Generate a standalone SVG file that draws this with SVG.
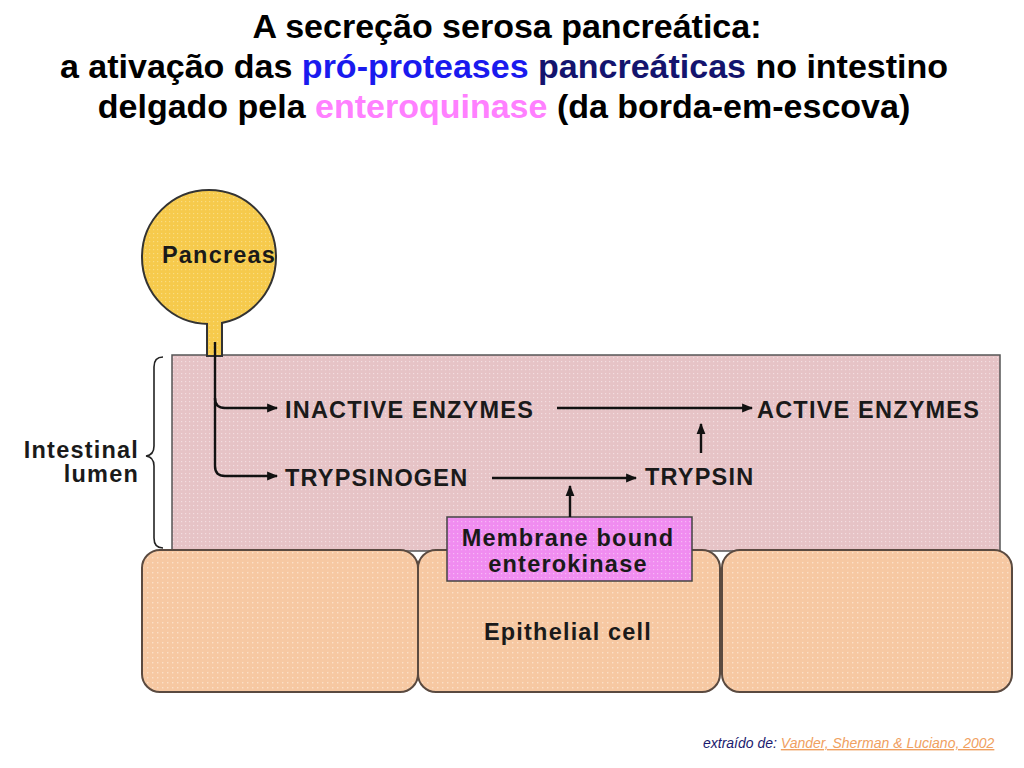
<svg xmlns="http://www.w3.org/2000/svg" width="1024" height="768" viewBox="0 0 1024 768">
<defs>
<pattern id="dotPink" width="4" height="4" patternUnits="userSpaceOnUse"><rect width="4" height="4" fill="#e6c3c6"/><rect x="1" y="1" width="1.2" height="1.2" fill="#f3dde0"/></pattern>
<pattern id="dotCell" width="5" height="5" patternUnits="userSpaceOnUse"><rect width="5" height="5" fill="#f6c8a2"/><rect x="2" y="2" width="1.4" height="1.4" fill="#fbe0c8"/></pattern>
<pattern id="dotYellow" width="4" height="4" patternUnits="userSpaceOnUse"><rect width="4" height="4" fill="#f6ca4c"/><rect x="1" y="1" width="1.2" height="1.2" fill="#fadd80"/></pattern>
<pattern id="dotMag" width="4" height="4" patternUnits="userSpaceOnUse"><rect width="4" height="4" fill="#f08cf0"/><rect x="1" y="1" width="1.2" height="1.2" fill="#f7b8f7"/></pattern>
<marker id="ah" viewBox="0 0 10 10" refX="9" refY="5" markerWidth="11" markerHeight="11" markerUnits="userSpaceOnUse" orient="auto"><path d="M0,1 L10,5 L0,9 Z" fill="#111"/></marker>
</defs>
<style>
.title{font-family:"Liberation Sans",Arial,sans-serif;font-weight:bold;font-size:34px;fill:#000}
.lbl{font-family:"Liberation Sans",Arial,sans-serif;font-weight:bold;font-size:23.5px;letter-spacing:1.2px;fill:#1a1a1a}
.cell{fill:url(#dotCell);stroke:#5a4a40;stroke-width:2}
.conn{fill:none;stroke:#111;stroke-width:2.4}
.foot{font-family:"Liberation Sans",Arial,sans-serif;font-style:italic;font-size:14px}
</style>
<g id="title">
<text class="title" x="507" y="38" text-anchor="middle">A secreção serosa pancreática:</text>
<text class="title" x="504" y="78" text-anchor="middle">a ativação das <tspan fill="#1a1aee">pró-proteases</tspan> <tspan fill="#14146e">pancreáticas</tspan> no intestino</text>
<text class="title" x="504" y="118" text-anchor="middle">delgado pela <tspan fill="#ff80ff">enteroquinase</tspan> (da borda-em-escova)</text>
</g>
<g id="lumen">
<rect x="172" y="355" width="828" height="196" fill="url(#dotPink)" stroke="#555" stroke-width="1.5"/>
</g>
<g id="cell-left"><rect class="cell" x="142" y="550" width="276" height="142" rx="18"/></g>
<g id="cell-middle"><rect class="cell" x="418" y="550" width="302" height="142" rx="18"/>
<text class="lbl" x="568" y="640" text-anchor="middle">Epithelial cell</text></g>
<g id="cell-right"><rect class="cell" x="722" y="550" width="290" height="142" rx="18"/></g>
<g id="pancreas">
<path d="M207,320 L207,356 L222,356 L222,320 Z" fill="url(#dotYellow)" stroke="#333" stroke-width="2"/>
<circle cx="209" cy="257" r="67" fill="url(#dotYellow)" stroke="#333" stroke-width="2"/>
<rect x="208" y="316" width="13" height="12" fill="url(#dotYellow)"/>
<text class="lbl" x="219" y="263" text-anchor="middle" font-size="25" letter-spacing="0.8">Pancreas</text>
</g>
<g id="enterokinase">
<rect x="447" y="517" width="245" height="64" fill="url(#dotMag)" stroke="#444" stroke-width="1.5"/>
<text class="lbl" x="568" y="546" text-anchor="middle">Membrane bound</text>
<text class="lbl" x="568" y="572" text-anchor="middle">enterokinase</text>
</g>
<g id="inactive"><text class="lbl" x="285" y="418">INACTIVE ENZYMES</text></g>
<g id="active"><text class="lbl" x="757" y="418">ACTIVE ENZYMES</text></g>
<g id="trypsinogen"><text class="lbl" x="285" y="486">TRYPSINOGEN</text></g>
<g id="trypsin"><text class="lbl" x="645" y="485">TRYPSIN</text></g>
<g id="lumen-label">
<text class="lbl" x="139" y="458" text-anchor="end">Intestinal</text>
<text class="lbl" x="139" y="482" text-anchor="end">lumen</text>
<path d="M163,357 Q154,357 154,367 L154,446 Q154,455 146,456 Q154,457 154,466 L154,538 Q154,548 163,548" fill="none" stroke="#222" stroke-width="1.6"/>
</g>
<g id="connectors">
<path class="conn" d="M215,342 L215,398 Q215,408 225,408 L277,408" marker-end="url(#ah)"/>
<path class="conn" d="M215,398 L215,466 Q215,476 225,476 L277,476" marker-end="url(#ah)"/>
<path class="conn" d="M557,408 L752,408" marker-end="url(#ah)"/>
<path class="conn" d="M492,478 L636,478" marker-end="url(#ah)"/>
<path class="conn" d="M701,453 L701,424" marker-end="url(#ah)"/>
<path class="conn" d="M570,517 L570,486" marker-end="url(#ah)"/>
</g>
<g id="footer">
<text class="foot" x="703" y="748" fill="#1a1a6e">extraído de: <tspan fill="#f0a060" text-decoration="underline">Vander, Sherman &amp; Luciano, 2002</tspan></text>
</g>
</svg>
